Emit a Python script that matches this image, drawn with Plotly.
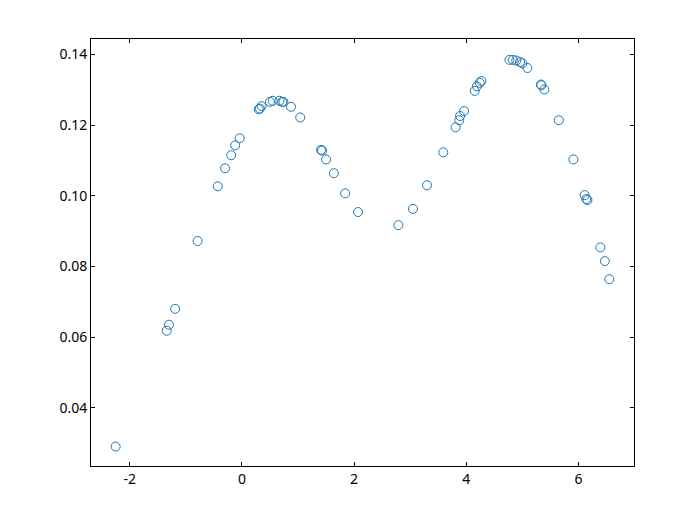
import plotly.graph_objects as go

x_vals = [-2.25, -1.34, -1.30, -1.19, -0.79, -0.43, -0.30, -0.19, -0.12, -0.04,
          0.30, 0.32, 0.35, 0.50, 0.55, 0.67, 0.72, 0.74, 0.875, 1.04,
          1.41, 1.43, 1.50, 1.64, 1.84, 2.07,
          2.79, 3.05, 3.30, 3.59, 3.81, 3.875, 3.89, 3.96,
          4.15, 4.19, 4.24, 4.27,
          4.77, 4.83, 4.89, 4.96, 5.00, 5.09,
          5.33, 5.34, 5.39, 5.65, 5.91, 6.11, 6.14, 6.16, 6.39, 6.47, 6.55]
y_vals = [0.0290, 0.0618, 0.0635, 0.0680, 0.0872, 0.1027, 0.1078, 0.1115, 0.1143, 0.1163,
          0.1245, 0.1247, 0.1254, 0.1266, 0.1269, 0.1269, 0.1266, 0.1266, 0.1252, 0.1222,
          0.1130, 0.1128, 0.1103, 0.1064, 0.1007, 0.0954,
          0.0917, 0.0963, 0.1030, 0.1123, 0.1194, 0.1214, 0.1226, 0.1240,
          0.1297, 0.1310, 0.1320, 0.1325,
          0.1385, 0.1385, 0.1383, 0.1379, 0.1375, 0.1362,
          0.1315, 0.1313, 0.1301, 0.1214, 0.1103, 0.1002, 0.0991, 0.0988, 0.0854, 0.0815, 0.0764]

x_ticks = [-2, 0, 2, 4, 6]
y_ticks = [0.04, 0.06, 0.08, 0.10, 0.12, 0.14]
y_tick_text = ["0.04", "0.06", "0.08", "0.10", "0.12", "0.14"]

fig = go.Figure()
fig.add_trace(go.Scatter(
    x=x_vals, y=y_vals, mode="markers",
    marker=dict(symbol="circle-open", size=9, color="#1f77b4", line=dict(width=1, color="#1f77b4")),
    showlegend=False,
))

axis_common = dict(
    showgrid=False, zeroline=False, showline=True, linecolor="black", linewidth=1,
    mirror="ticks", ticks="inside", ticklen=4, tickwidth=1, tickcolor="black",
    tickfont=dict(family="Noto Sans", size=14, color="black"),
)
fig.update_xaxes(range=[-2.69, 6.99], tickvals=x_ticks, ticktext=[str(v) for v in x_ticks], **axis_common)
fig.update_yaxes(range=[0.0235, 0.1444], tickvals=y_ticks, ticktext=y_tick_text, **axis_common)

fig.update_layout(
    width=700, height=524,
    margin=dict(l=83, r=74, t=31, b=66),
    plot_bgcolor="white", paper_bgcolor="white",
)
fig.write_html("out.html")
